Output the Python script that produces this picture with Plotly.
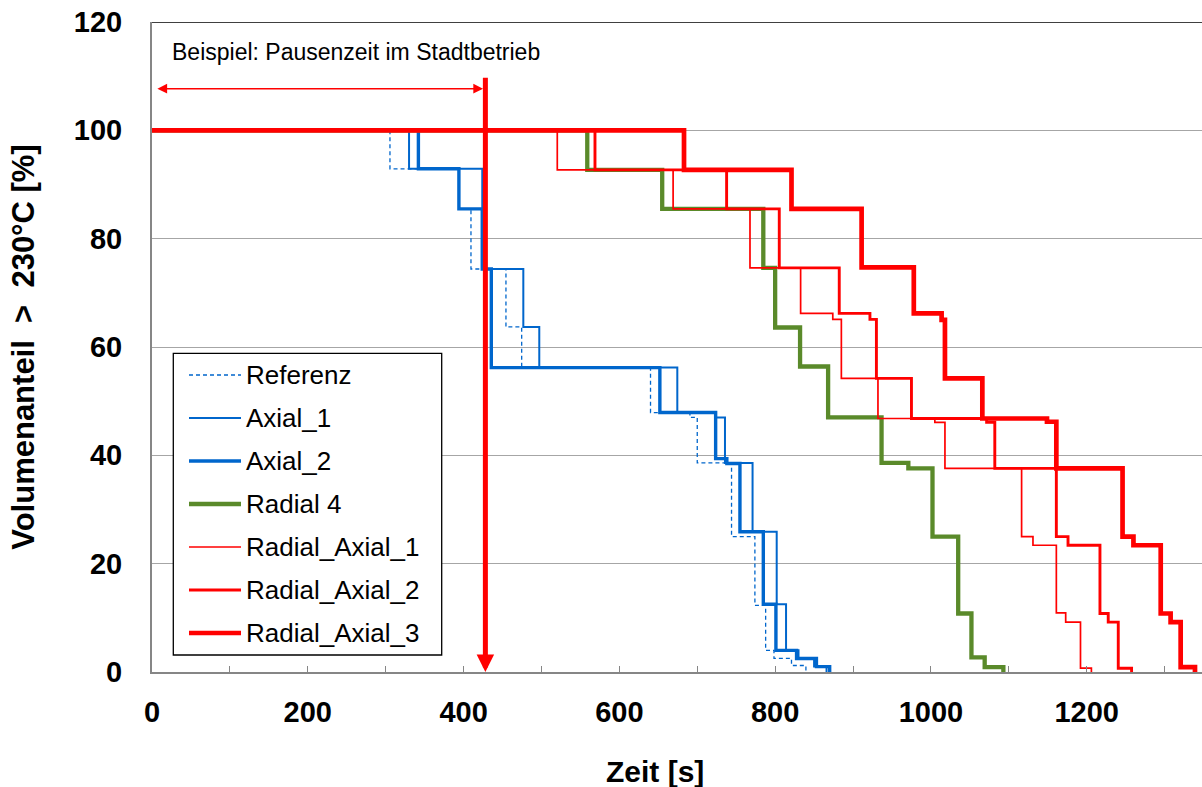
import plotly.graph_objects as go

# ---- data: step curves (time in s where the level changes, volume share in %) ----
REF_T = [0, 305.5, 394, 409.5, 454.4, 474.6, 640, 690.6, 700, 744, 774, 787.8, 798.5, 821, 839.5]
REF_V = [100, 92.9, 85.5, 74.4, 63.7, 56.2, 47.9, 47.0, 38.6, 25.0, 12.3, 4.0, 2.5, 1.2, 0]

AX1_T = [0, 330, 424, 476.7, 497.2, 674.4, 724, 735.6, 771, 802, 814, 830, 850, 866]
AX1_V = [100, 92.9, 74.4, 63.7, 56.2, 47.9, 47.0, 38.6, 25.9, 12.5, 4.0, 2.5, 1.0, 0]

AX2_T = [0, 342, 394, 424, 435.6, 652, 723.6, 738, 754.8, 784.8, 801, 827.5, 853, 870]
AX2_V = [100, 92.9, 85.5, 74.4, 56.2, 47.9, 39.4, 38.5, 25.9, 12.5, 4.0, 2.5, 1.0, 0]

RAD4_T = [0, 558.8, 655, 784.8, 800, 832, 868, 936.6, 971, 1002, 1035, 1052, 1069, 1093]
RAD4_V = [100, 92.7, 85.5, 74.6, 63.6, 56.4, 47.0, 38.6, 37.6, 25.0, 10.8, 2.7, 0.9, 0]

RA1_T = [0, 520.3, 669, 767.7, 832.7, 874, 885, 932, 1005, 1018, 1116.4, 1131, 1161, 1173, 1192, 1206]
RA1_V = [100, 92.7, 85.5, 74.6, 66.2, 65.1, 54.2, 46.8, 46.1, 37.6, 25.0, 23.4, 10.9, 9.2, 0.7, 0]

RA2_T = [0, 568.7, 737.7, 805.3, 882.3, 921.7, 930, 975, 1071.5, 1082, 1161, 1176, 1217, 1227.6, 1240.5, 1257.6]
RA2_V = [100, 92.7, 85.5, 74.6, 66.2, 65.1, 54.2, 46.8, 46.1, 37.6, 25.0, 23.4, 10.8, 9.2, 0.7, 0]

RA3_T = [0, 683, 821, 911, 978, 1013.7, 1018, 1066, 1149, 1161, 1246, 1260, 1295, 1307.7, 1320.6, 1339]
RA3_V = [100, 92.7, 85.5, 74.7, 66.2, 65.0, 54.2, 46.8, 46.2, 37.6, 25.0, 23.4, 10.8, 9.2, 0.9, 0]

SERIES_NAMES = ["Referenz", "Axial_1", "Axial_2", "Radial 4",
                "Radial_Axial_1", "Radial_Axial_2", "Radial_Axial_3"]
SERIES_T = [REF_T, AX1_T, AX2_T, RAD4_T, RA1_T, RA2_T, RA3_T]
SERIES_V = [REF_V, AX1_V, AX2_V, RAD4_V, RA1_V, RA2_V, RA3_V]

# pause time marker (s) and annotation
PAUSE_T = 428
PAUSE_TOP = 110
ARROW_Y = 107.7
ARROW_START = 5
NOTE_TEXT = "Beispiel: Pausenzeit im Stadtbetrieb"
NOTE_X = 23
NOTE_Y = 114.4

X_TITLE = "Zeit [s]"
Y_TITLE = "Volumenanteil\u00a0\u00a0>\u00a0\u00a0230°C\u00a0[%]"

X_TICKS = list(range(0, 1301, 100))
X_TICK_LABELS = [str(v) if v % 200 == 0 else "" for v in X_TICKS]
Y_TICKS = [0, 20, 40, 60, 80, 100, 120]

# ---- styles ----
BLUE = "#0066CC"
GREEN = "#5A8A2A"
RED = "#FF0000"
SERIES_COLORS = [BLUE, BLUE, BLUE, GREEN, RED, RED, RED]
SERIES_WIDTHS = [1.3, 2.0, 3.4, 4.3, 1.7, 2.9, 4.7]
SERIES_DASH = ["4px,3px", "solid", "solid", "solid", "solid", "solid", "solid"]

FONT = "Liberation Sans, Arial, sans-serif"
W, H = 1202, 787
M_L, M_R, M_T, M_B = 152, 0, 22, 115
PLOT_W = W - M_L - M_R
PLOT_H = H - M_T - M_B

fig = go.Figure()
for name, t, v, c, w, d in zip(SERIES_NAMES, SERIES_T, SERIES_V,
                               SERIES_COLORS, SERIES_WIDTHS, SERIES_DASH):
    fig.add_trace(go.Scatter(
        x=t, y=v, name=name, mode="lines", line_shape="hv",
        line=dict(color=c, width=w, dash=d), showlegend=False,
    ))


def px_x(px):
    return (px - M_L) / PLOT_W


def px_y(py):
    return (H - M_B - py) / PLOT_H


shapes = []
annotations = []

# top frame line at 120 %
shapes.append(dict(type="line", xref="paper", yref="y", x0=0, x1=1, y0=120, y1=120,
                   line=dict(color="#000000", width=1.3), layer="above"))

# legend box with line samples and labels
LEG_LEFT, LEG_RIGHT, LEG_TOP, LEG_BOTTOM = 173.3, 441.7, 353.3, 655
LEG_ROW0, LEG_STEP = 375, 43
shapes.append(dict(type="rect", xref="paper", yref="paper",
                   x0=px_x(LEG_LEFT), x1=px_x(LEG_RIGHT),
                   y0=px_y(LEG_BOTTOM), y1=px_y(LEG_TOP),
                   line=dict(color="#000000", width=1.3), fillcolor="white", layer="above"))
for i, (name, c, w, d) in enumerate(zip(SERIES_NAMES, SERIES_COLORS, SERIES_WIDTHS, SERIES_DASH)):
    yc = px_y(LEG_ROW0 + i * LEG_STEP)
    shapes.append(dict(type="line", xref="paper", yref="paper",
                       x0=px_x(189), x1=px_x(241), y0=yc, y1=yc,
                       line=dict(color=c, width=w, dash=d), layer="above"))
    annotations.append(dict(xref="paper", yref="paper", x=px_x(244), y=yc,
                            xanchor="left", yanchor="middle", text=name, showarrow=False,
                            font=dict(family=FONT, size=26, color="#000000")))

# pause time: note, double arrow and vertical marker
annotations.append(dict(x=NOTE_X, y=NOTE_Y, xref="x", yref="y", text=NOTE_TEXT,
                        showarrow=False, xanchor="left", yanchor="middle",
                        font=dict(family=FONT, size=23, color="#000000")))
annotations.append(dict(x=PAUSE_T - 3, y=ARROW_Y, ax=ARROW_START, ay=ARROW_Y,
                        xref="x", yref="y", axref="x", ayref="y", text="",
                        showarrow=True, arrowside="end+start", arrowhead=2,
                        arrowsize=1.3, arrowwidth=1.5, arrowcolor=RED, standoff=0,
                        startstandoff=0))
annotations.append(dict(x=PAUSE_T, y=0, ax=PAUSE_T, ay=PAUSE_TOP,
                        xref="x", yref="y", axref="x", ayref="y", text="",
                        showarrow=True, arrowhead=2, arrowsize=0.7, arrowwidth=5,
                        arrowcolor=RED, standoff=0))

# x axis title, centred below the tick labels
annotations.append(dict(xref="paper", yref="paper", x=px_x(655), y=px_y(771),
                        xanchor="center", yanchor="middle", text=X_TITLE, showarrow=False,
                        font=dict(family=FONT, size=30, weight="bold", color="#000000")))

fig.update_layout(
    width=W, height=H,
    margin=dict(l=M_L, r=M_R, t=M_T, b=M_B, pad=0),
    paper_bgcolor="white", plot_bgcolor="white",
    font=dict(family=FONT, color="#000000"),
    showlegend=False,
    shapes=shapes, annotations=annotations,
    xaxis=dict(
        range=[0, 1348], tickvals=X_TICKS, ticktext=X_TICK_LABELS,
        ticks="inside", ticklen=6, tickwidth=1.3, tickcolor="#868686",
        showgrid=False, zeroline=False,
        showline=True, linecolor="#868686", linewidth=2,
        tickfont=dict(family=FONT, size=29, weight="bold", color="#000000"),
        ticklabelstandoff=13,
        automargin=False,
    ),
    yaxis=dict(
        range=[0, 120], tickvals=Y_TICKS,
        ticks="", showgrid=True, gridcolor="#A6A6A6", gridwidth=1.3,
        zeroline=False, showline=True, linecolor="#868686", linewidth=2,
        tickfont=dict(family=FONT, size=29, weight="bold", color="#000000"),
        ticklabelstandoff=22,
        title=dict(text=Y_TITLE, standoff=30,
                   font=dict(family=FONT, size=31, weight="bold", color="#000000")),
        automargin=False,
    ),
)

fig.write_html("out.html")
